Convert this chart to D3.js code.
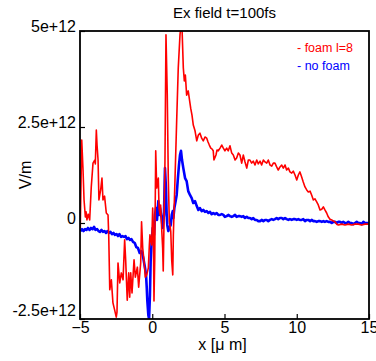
<!DOCTYPE html>
<html lang="en">
<head>
    <meta charset="UTF-8">
    <title>Ex field t=100fs</title>
    <script src="https://d3js.org/d3.v7.min.js"></script>
    <style>
        body { margin: 0; background: #fff; }
        svg { display: block; font-family: "Liberation Sans", Arial, sans-serif; }
    </style>
</head>
<body>
    <div id="chart"></div>

    <script>
        // Ex field, values in units of 1e12 V/m, x in micrometres
        const foamX = [
            -4.98, -4.88, -4.79, -4.72, -4.63, -4.58, -4.52, -4.43, -4.33, -4.22,
            -4.10, -3.98, -3.94, -3.87, -3.82, -3.75, -3.69, -3.57, -3.48, -3.41,
            -3.30, -3.18, -3.06, -3.01, -2.94, -2.83, -2.72, -2.60, -2.49, -2.44,
            -2.37, -2.25, -2.14, -2.02, -1.91, -1.84, -1.73, -1.63, -1.56, -1.49,
            -1.40, -1.26, -1.17, -1.03, -0.94, -0.80, -0.74, -0.66, -0.57, -0.48,
            -0.38, -0.27, -0.20, -0.16, -0.04, 0.03, 0.07, 0.12, 0.17, 0.24,
            0.31, 0.42, 0.47, 0.54, 0.58, 0.65, 0.72, 0.76, 0.83, 0.88,
            0.95, 1.04, 1.11, 1.18, 1.28, 1.35, 1.42, 1.46, 1.57, 1.69,
            1.80, 1.92, 1.99, 2.06, 2.15, 2.22, 2.29, 2.38, 2.49, 2.58,
            2.66, 2.75, 2.84, 2.96, 3.08, 3.19, 3.30, 3.42, 3.53, 3.65,
            3.77, 3.86, 3.95, 4.05, 4.13, 4.22, 4.27, 4.41, 4.48, 4.57,
            4.69, 4.81, 4.92, 5.03, 5.15, 5.26, 5.38, 5.50, 5.61, 5.73,
            5.84, 5.96, 6.07, 6.19, 6.30, 6.42, 6.54, 6.65, 6.76, 6.88,
            6.99, 7.11, 7.23, 7.34, 7.46, 7.57, 7.69, 7.80, 7.92, 8.03,
            8.15, 8.27, 8.38, 8.49, 8.61, 8.72, 8.84, 8.96, 9.07, 9.19,
            9.30, 9.42, 9.53, 9.65, 9.76, 9.88, 10.00, 10.11, 10.22, 10.34,
            10.45, 10.57, 10.69, 10.80, 10.92, 11.03, 11.15, 11.26, 11.38, 11.49,
            11.61, 11.73, 11.84, 11.95, 12.07, 12.18, 12.30, 12.42, 12.53, 12.65,
            12.76, 12.88, 13.11, 13.34, 13.57, 13.80, 14.03, 14.26, 14.49, 14.72,
            14.97
        ];
        const foamY = [
            -0.13, 2.16, 1.38, 0.60, 0.16, 0.29, 0.08, 0.23, 0.08, 0.94,
            1.56, 1.64, 1.54, 2.42, 2.03, 1.64, 0.60, 0.86, 1.17, 0.60,
            0.70, 0.26, 0.21, -0.36, -1.74, -1.48, -2.08, -2.27, -2.45, -2.32,
            -1.04, -1.56, -1.30, -1.48, -0.44, -0.96, -2.01, -1.30, -1.93, -1.30,
            -1.82, -0.96, -1.41, -1.15, -1.67, -1.04, 0.03, -0.65, -0.99, -1.41,
            -1.35, -1.17, -0.57, -0.31, -0.57, 0.39, -0.05, -2.03, -0.99, 1.88,
            0.91, 1.17, 0.39, 0.21, 0.47, -0.13, -0.65, -1.25, 0.39, 1.61,
            4.90, 3.33, 1.17, 0.05, -0.21, -0.99, -1.35, -0.31, 1.09, 2.66,
            4.04, 4.90, 5.16, 5.08, 4.04, 3.70, 3.85, 3.33, 3.44, 3.20,
            2.99, 2.81, 2.55, 2.40, 2.14, 2.29, 2.34, 2.21, 2.14, 2.24,
            2.21, 2.11, 2.03, 1.95, 1.93, 1.88, 1.64, 1.77, 1.90, 1.88,
            1.95, 2.03, 1.95, 1.88, 1.95, 1.88, 2.01, 1.82, 1.77, 1.64,
            1.69, 1.82, 1.77, 1.56, 1.77, 1.59, 1.43, 1.64, 1.64, 1.56,
            1.61, 1.51, 1.64, 1.54, 1.61, 1.51, 1.64, 1.59, 1.56, 1.64,
            1.51, 1.48, 1.56, 1.56, 1.46, 1.38, 1.46, 1.51, 1.43, 1.51,
            1.38, 1.43, 1.33, 1.30, 1.35, 1.25, 1.12, 1.25, 1.33, 1.20,
            1.07, 0.94, 0.86, 0.81, 0.83, 0.73, 0.60, 0.63, 0.55, 0.47,
            0.34, 0.36, 0.42, 0.34, 0.26, 0.16, 0.10, 0.08, 0.05, 0.03,
            -0.03, -0.05, -0.03, -0.05, -0.03, -0.05, -0.03, -0.03, -0.05, -0.03,
            -0.03
        ];

        const noFoamX = [
            -4.97, -4.86, -4.76, -4.65, -4.55, -4.45, -4.34, -4.24, -4.13, -4.03,
            -3.93, -3.82, -3.72, -3.62, -3.51, -3.41, -3.30, -3.20, -3.10, -2.99,
            -2.89, -2.79, -2.68, -2.58, -2.47, -2.37, -2.27, -2.16, -2.06, -1.95,
            -1.85, -1.75, -1.64, -1.54, -1.44, -1.33, -1.21, -1.10, -0.99, -0.87,
            -0.73, -0.62, -0.50, -0.43, -0.38, -0.34, -0.27, -0.22, -0.16, -0.11,
            -0.04, 0.03, 0.12, 0.19, 0.26, 0.33, 0.42, 0.49, 0.54, 0.65,
            0.72, 0.81, 0.88, 0.95, 1.00, 1.04, 1.11, 1.18, 1.28, 1.35,
            1.42, 1.46, 1.53, 1.62, 1.69, 1.76, 1.85, 1.92, 1.99, 2.06,
            2.15, 2.27, 2.38, 2.49, 2.61, 2.73, 2.84, 2.96, 3.08, 3.19,
            3.30, 3.42, 3.53, 3.65, 3.77, 3.88, 4.00, 4.11, 4.22, 4.34,
            4.46, 4.57, 4.69, 4.81, 4.92, 5.03, 5.15, 5.26, 5.38, 5.50,
            5.61, 5.73, 5.84, 5.96, 6.07, 6.19, 6.30, 6.42, 6.54, 6.65,
            6.76, 6.88, 6.99, 7.11, 7.23, 7.34, 7.46, 7.57, 7.69, 7.80,
            7.92, 8.03, 8.15, 8.27, 8.38, 8.49, 8.61, 8.72, 8.84, 8.96,
            9.07, 9.19, 9.30, 9.42, 9.53, 9.65, 9.76, 9.88, 10.00, 10.11,
            10.22, 10.34, 10.45, 10.57, 10.69, 10.80, 10.92, 11.03, 11.15, 11.26,
            11.38, 11.49, 11.61, 11.73, 11.84, 11.95, 12.07, 12.18, 12.30, 12.42,
            12.53, 12.65, 12.76, 12.88, 12.99, 13.11, 13.22, 13.34, 13.46, 13.57,
            13.69, 13.80, 13.91, 14.03, 14.15, 14.26, 14.38, 14.49, 14.61, 14.72,
            14.84, 14.97
        ];
        const noFoamY = [
            -0.21, -0.16, -0.21, -0.16, -0.18, -0.13, -0.18, -0.13, -0.16, -0.10,
            -0.18, -0.16, -0.21, -0.23, -0.18, -0.23, -0.21, -0.26, -0.21, -0.26,
            -0.23, -0.29, -0.26, -0.31, -0.29, -0.34, -0.29, -0.36, -0.34, -0.36,
            -0.34, -0.42, -0.39, -0.44, -0.42, -0.49, -0.52, -0.63, -0.65, -0.78,
            -0.73, -0.91, -1.17, -1.35, -1.69, -2.03, -2.40, -2.50, -1.88, -0.99,
            -0.47, -0.13, -0.31, 0.21, 0.39, 0.08, 0.57, 0.21, 0.39, 0.13,
            -0.13, 0.21, 1.43, 0.91, 0.21, -0.05, -0.21, -0.13, -0.05, 0.21,
            0.31, 0.13, 0.39, 0.57, 0.73, 1.09, 1.51, 1.77, 1.88, 1.64,
            1.43, 1.17, 1.09, 0.83, 0.73, 0.65, 0.52, 0.57, 0.44, 0.34,
            0.39, 0.31, 0.34, 0.29, 0.31, 0.26, 0.29, 0.23, 0.26, 0.23,
            0.26, 0.21, 0.21, 0.23, 0.21, 0.16, 0.18, 0.21, 0.18, 0.16,
            0.18, 0.21, 0.16, 0.18, 0.18, 0.16, 0.18, 0.13, 0.16, 0.13,
            0.13, 0.10, 0.13, 0.08, 0.08, 0.05, 0.05, 0.08, 0.05, 0.08,
            0.08, 0.05, 0.08, 0.10, 0.08, 0.10, 0.13, 0.10, 0.13, 0.13,
            0.10, 0.13, 0.10, 0.08, 0.10, 0.08, 0.10, 0.10, 0.08, 0.10,
            0.08, 0.08, 0.10, 0.05, 0.08, 0.08, 0.05, 0.08, 0.05, 0.05,
            0.03, 0.05, 0.05, 0.03, 0.05, 0.03, 0.05, 0.03, 0.03, 0.00,
            0.03, 0.03, 0.00, 0.03, 0.03, 0.00, 0.03, 0.00, 0.00, 0.03,
            0.00, 0.00, -0.03, 0.00, 0.03, 0.00, 0.00, -0.03, 0.03, 0.00,
            0.00, 0.00
        ];

        const xTicks = [-5, 0, 5, 10, 15];
        const yTicks = [-2.5e12, 0, 2.5e12, 5e12];
        const yTickLabels = ["-2.5e+12", "0", "2.5e+12", "5e+12"];
        const seriesNames = ["- foam l=8", "- no foam"];
        const seriesColors = ["#ff0000", "#0000ff"];
        const UNIT = 1e12;

        const foam = foamX.map((x, i) => ({ x: x, y: foamY[i] * UNIT }));
        const noFoam = noFoamX.map((x, i) => ({ x: x, y: noFoamY[i] * UNIT }));

        const margin = {top: 31, right: 7, bottom: 42, left: 80};
        const width = 376 - margin.left - margin.right;
        const height = 361 - margin.top - margin.bottom;

        const svg = d3.select("#chart")
            .append("svg")
            .attr("width", 376)
            .attr("height", 361);

        const g = svg.append("g")
            .attr("transform", `translate(${margin.left},${margin.top})`);

        const x = d3.scaleLinear().domain([-5, 15]).range([0, width]);
        const y = d3.scaleLinear().domain([-2.5e12, 5e12]).range([height, 0]);

        g.append("clipPath")
            .attr("id", "plot-clip")
            .append("rect")
            .attr("width", width)
            .attr("height", height);

        const line = d3.line()
            .x(d => x(d.x))
            .y(d => y(d.y));

        const lines = g.append("g").attr("clip-path", "url(#plot-clip)");

        lines.append("path")
            .datum(noFoam)
            .attr("fill", "none")
            .attr("stroke", seriesColors[1])
            .attr("stroke-width", 2.6)
            .attr("stroke-linejoin", "round")
            .attr("d", line);

        lines.append("path")
            .datum(foam)
            .attr("fill", "none")
            .attr("stroke", seriesColors[0])
            .attr("stroke-width", 1.6)
            .attr("stroke-linejoin", "round")
            .attr("d", line);

        // axes, ticks pointing inward
        const xAxis = g.append("g")
            .attr("transform", `translate(0,${height})`)
            .call(d3.axisBottom(x).tickValues(xTicks).tickSize(-5).tickPadding(3));

        const yAxis = g.append("g")
            .call(d3.axisLeft(y).tickValues(yTicks)
                .tickFormat((d, i) => yTickLabels[i])
                .tickSize(-5).tickPadding(4));

        [xAxis, yAxis].forEach(a => {
            a.select(".domain").remove();
            a.selectAll(".tick line").attr("stroke", "#000").attr("stroke-width", 1.2);
            a.selectAll("text").attr("fill", "#000").style("font-size", "16px");
        });
        yAxis.selectAll("text").attr("dy", (d, i) => i === 0 ? "-0.2em" : "0em");
        xAxis.selectAll("text").attr("dy", "0.68em");

        // frame
        g.append("rect")
            .attr("width", width)
            .attr("height", height)
            .attr("fill", "none")
            .attr("stroke", "#000")
            .attr("stroke-width", 1.8);

        // title and axis labels
        svg.append("text")
            .attr("x", margin.left + width / 2)
            .attr("y", 18)
            .attr("text-anchor", "middle")
            .style("font-size", "15px")
            .text("Ex field t=100fs");

        svg.append("text")
            .attr("x", margin.left + width / 2 - 2)
            .attr("y", 350)
            .attr("text-anchor", "middle")
            .style("font-size", "16px")
            .text("x [\u03bc m]");

        svg.append("text")
            .attr("transform", `translate(31,${margin.top + height / 2}) rotate(-90)`)
            .attr("text-anchor", "middle")
            .style("font-size", "16px")
            .text("V/m");

        // legend
        const legend = g.append("g").attr("transform", `translate(${width - 72},0)`);
        legend.selectAll("text")
            .data(seriesNames)
            .enter()
            .append("text")
            .attr("x", 0)
            .attr("y", (d, i) => 21 + i * 17.5)
            .attr("fill", (d, i) => seriesColors[i])
            .style("font-size", "12.5px")
            .text(d => d);
    </script>
</body>
</html>
